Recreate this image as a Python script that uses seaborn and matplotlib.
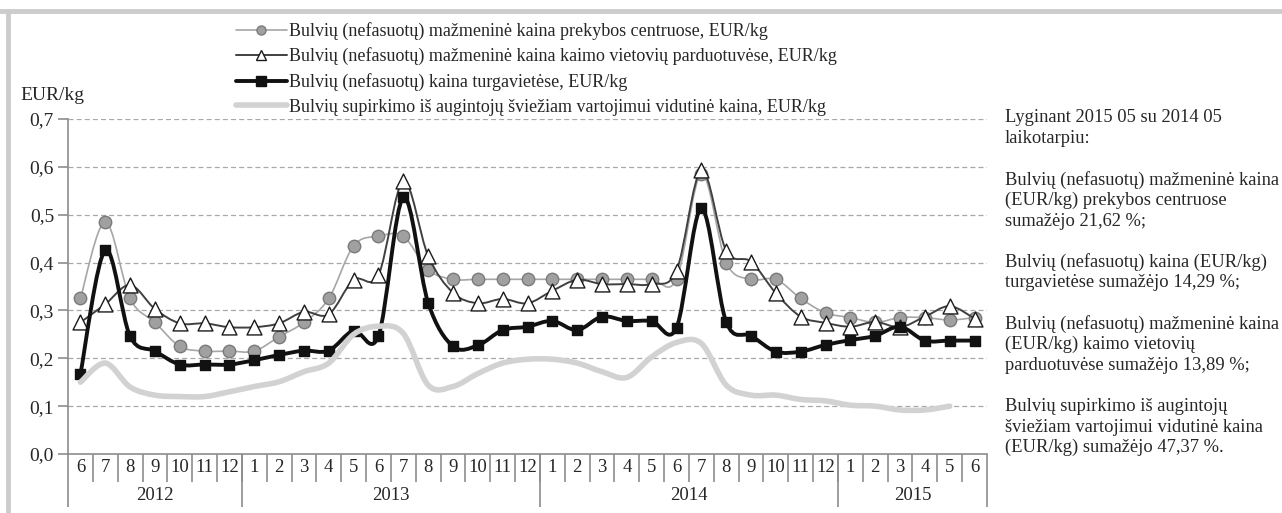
import numpy as np
import matplotlib.pyplot as plt
import seaborn as sns
from matplotlib.path import Path
from matplotlib.patches import PathPatch
from matplotlib.lines import Line2D
import matplotlib.transforms as mtransforms

sns.set_theme(style="white")
plt.rcParams.update({
    'font.family': ['Liberation Serif', 'DejaVu Serif'],
    'text.color': '#262626',
    'axes.labelcolor': '#262626',
    'xtick.color': '#262626',
    'ytick.color': '#262626',
})

# months 2012-06 .. 2015-06
months = [6, 7, 8, 9, 10, 11, 12,
          1, 2, 3, 4, 5, 6, 7, 8, 9, 10, 11, 12,
          1, 2, 3, 4, 5, 6, 7, 8, 9, 10, 11, 12,
          1, 2, 3, 4, 5, 6]
years = ["2012", "2013", "2014", "2015"]
year_lengths = [7, 12, 12, 6]

# retail price in shopping centres (grey circles)
price_centres = [0.325, 0.485, 0.325, 0.275, 0.225, 0.215, 0.215, 0.215, 0.245, 0.275,
                 0.325, 0.435, 0.455, 0.455, 0.385, 0.365, 0.365, 0.365, 0.365, 0.365,
                 0.365, 0.365, 0.365, 0.365, 0.365, 0.585, 0.400, 0.365, 0.365, 0.325,
                 0.295, 0.285, 0.275, 0.285, 0.285, 0.280, 0.285]
# retail price in rural shops (white triangles)
price_rural = [0.275, 0.313, 0.353, 0.303, 0.273, 0.273, 0.265, 0.265, 0.273, 0.297,
               0.292, 0.364, 0.374, 0.570, 0.414, 0.337, 0.315, 0.324, 0.315, 0.341,
               0.364, 0.355, 0.355, 0.355, 0.383, 0.593, 0.425, 0.402, 0.336, 0.287,
               0.274, 0.266, 0.276, 0.265, 0.287, 0.309, 0.283]
# price at marketplaces (black squares)
price_market = [0.167, 0.426, 0.246, 0.215, 0.187, 0.187, 0.187, 0.196, 0.207, 0.216,
                0.216, 0.258, 0.247, 0.536, 0.316, 0.225, 0.227, 0.259, 0.266, 0.278,
                0.259, 0.287, 0.278, 0.278, 0.264, 0.513, 0.276, 0.247, 0.214, 0.214,
                0.228, 0.238, 0.247, 0.266, 0.237, 0.237, 0.237]
# purchase price from growers (light grey line, ends 2015-05)
price_purchase = [0.150, 0.190, 0.140, 0.123, 0.120, 0.120, 0.130, 0.141, 0.151, 0.172,
                  0.190, 0.250, 0.267, 0.252, 0.144, 0.141, 0.168, 0.190, 0.198, 0.198,
                  0.190, 0.172, 0.160, 0.203, 0.233, 0.231, 0.144, 0.123, 0.123, 0.114,
                  0.111, 0.102, 0.100, 0.092, 0.092, 0.100]

labels = [
    "Bulvių (nefasuotų) mažmeninė kaina prekybos centruose, EUR/kg",
    "Bulvių (nefasuotų) mažmeninė kaina kaimo vietovių parduotuvėse, EUR/kg",
    "Bulvių (nefasuotų) kaina turgavietėse, EUR/kg",
    "Bulvių supirkimo iš augintojų šviežiam vartojimui vidutinė kaina, EUR/kg",
]

note_lines = [
    "Lyginant 2015 05 su 2014 05",
    "laikotarpiu:",
    "",
    "Bulvių (nefasuotų) mažmeninė kaina",
    "(EUR/kg) prekybos centruose",
    "sumažėjo 21,62 %;",
    "",
    "Bulvių (nefasuotų) kaina (EUR/kg)",
    "turgavietėse sumažėjo 14,29 %;",
    "",
    "Bulvių (nefasuotų) mažmeninė kaina",
    "(EUR/kg) kaimo vietovių",
    "parduotuvėse sumažėjo 13,89 %;",
    "",
    "Bulvių supirkimo iš augintojų",
    "šviežiam vartojimui vidutinė kaina",
    "(EUR/kg) sumažėjo 47,37 %.",
]


def smooth_path(x, y):
    # Excel-like smoothed line (Catmull-Rom as cubic Bezier)
    pts = np.column_stack([x, y])
    n = len(pts)
    verts = [pts[0]]
    codes = [Path.MOVETO]
    for i in range(n - 1):
        p0 = pts[max(i - 1, 0)]
        p1 = pts[i]
        p2 = pts[i + 1]
        p3 = pts[min(i + 2, n - 1)]
        verts += [p1 + (p2 - p0) / 6, p2 - (p3 - p1) / 6, p2]
        codes += [Path.CURVE4] * 3
    return Path(verts, codes)


W, H = 1282, 513
fig = plt.figure(figsize=(W / 100, H / 100), dpi=100)
ax = fig.add_axes([68 / W, (H - 454) / H, (987 - 68) / W, (454 - 119) / H])

x = np.arange(len(months))

styles = [
    dict(y=price_centres, lc='#a6a6a6', lw=1.2, marker='o', s=80, fc='#a0a0a0', ec='#7a7a7a', z=3),
    dict(y=price_rural, lc='#404040', lw=1.4, marker='^', s=115, fc='white', ec='#1a1a1a', z=4),
    dict(y=price_market, lc='#111111', lw=2.8, marker='s', s=42, fc='#111111', ec='#111111', z=5),
]
for st in styles:
    ax.add_patch(PathPatch(smooth_path(x, st['y']), fill=False, ec=st['lc'], lw=st['lw'],
                           zorder=st['z'], capstyle='round', joinstyle='round'))
    sns.scatterplot(x=x, y=st['y'], marker=st['marker'], s=st['s'], color=st['fc'],
                    edgecolor=st['ec'], linewidth=1.0, zorder=st['z'] + 0.5, ax=ax, legend=False)

xp = np.arange(len(price_purchase))
ax.add_patch(PathPatch(smooth_path(xp, price_purchase), fill=False, ec='#d2d2d2', lw=4,
                       zorder=6, capstyle='round', joinstyle='round'))

ax.set_xlim(-0.5, len(months) - 0.5)
ax.set_ylim(0, 0.7)
yt = np.round(np.arange(0, 0.71, 0.1), 1)
ax.set_yticks(yt)
ax.set_yticklabels([f"{v:.1f}".replace('.', ',') for v in yt], fontsize=14)
ax.set_xticks([])
for yv in yt[1:]:
    ax.axhline(yv, color='#a8a8a8', lw=0.9, ls=(0, (4, 2.5)), zorder=1)
for side in ['top', 'right']:
    ax.spines[side].set_visible(False)
for side in ['left', 'bottom']:
    ax.spines[side].set_color('#8c8c8c')
    ax.spines[side].set_linewidth(1.2)
ax.tick_params(axis='y', left=True, length=7, width=1.2, color='#8c8c8c', pad=3)

# category axis: months and year groups
trans = mtransforms.blended_transform_factory(ax.transData, ax.transAxes)
ax_h = 454 - 119
for i, m in enumerate(months):
    ax.text(i, -(468 - 454) / ax_h, str(m), transform=trans, ha='center', va='center', fontsize=13.5)
ax.vlines(x[1:] - 0.5, -(482 - 454) / ax_h, 0, transform=trans, colors='#8c8c8c', lw=1.2, clip_on=False)
start = 0
for yr, n in zip(years, year_lengths):
    ax.text(start + (n - 1) / 2, -(495 - 454) / ax_h, yr, transform=trans, ha='center', va='center', fontsize=13.5)
    ax.vlines([start - 0.5], -(507 - 454) / ax_h, 0, transform=trans, colors='#8c8c8c', lw=1.2, clip_on=False)
    start += n
ax.vlines([start - 0.5], -(507 - 454) / ax_h, 0, transform=trans, colors='#8c8c8c', lw=1.2, clip_on=False)

fig.text(20 / W, 1 - 96 / H, "EUR/kg", va='center', ha='left', fontsize=14)

# legend
handles = [
    Line2D([], [], color='#a6a6a6', lw=1.2, marker='o', ms=6.5, mfc='#a0a0a0', mec='#7a7a7a'),
    Line2D([], [], color='#404040', lw=1.4, marker='^', ms=7, mfc='white', mec='#1a1a1a'),
    Line2D([], [], color='#111111', lw=2.8, marker='s', ms=7.5, mfc='#111111', mec='#111111'),
    Line2D([], [], color='#d2d2d2', lw=4),
]
fig.legend(handles, labels, loc='upper left', bbox_to_anchor=(236 / W, 1 - 22 / H),
           frameon=False, fontsize=13, handlelength=2.8, handletextpad=0.15,
           labelspacing=0.42, borderpad=0, borderaxespad=0)

for k, line in enumerate(note_lines):
    fig.text(1005 / W, 1 - (118 + 20.6 * k) / H, line, va='center', ha='left', fontsize=13.3)

# grey frame
fig.add_artist(Line2D([0, 1], [1 - 11 / H] * 2, color='#cccccc', lw=3.5, transform=fig.transFigure))
fig.add_artist(Line2D([8 / W] * 2, [0, 1 - 11 / H], color='#cccccc', lw=3.5, transform=fig.transFigure))

fig.savefig("out.png", dpi=100)
